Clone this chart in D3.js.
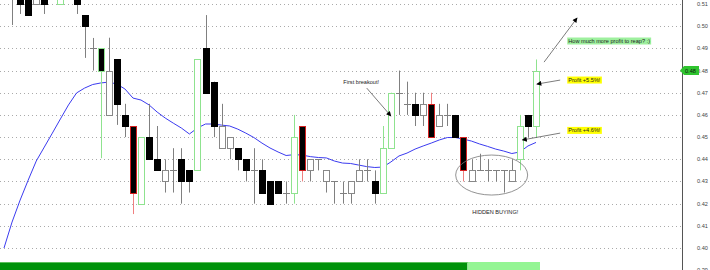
<!DOCTYPE html>
<html>
<head>
<meta charset="utf-8">
<script src="https://cdn.jsdelivr.net/npm/d3@7"></script>
<style>
  body { margin: 0; background: #fff; }
  svg { display: block; font-family: "Liberation Sans", Arial, sans-serif; }
</style>
</head>
<body>
<div id="chart"></div>
<script>
// price data, one entry per bar (bar 0 sits above the visible range)
const opens  = [0.516,0.515,0.515,0.516,0.51,0.515,0.514,0.51,0.515,0.514,0.505,0.49,0.49,0.46,0.485,0.46,0.455,0.42,0.45,0.44,0.43,0.435,0.44,0.435,0.435,0.49,0.475,0.445,0.445,0.445,0.44,0.435,0.435,0.43,0.43,0.425,0.425,0.455,0.435,0.44,0.43,0.43,0.425,0.425,0.43,0.435,0.43,0.425,0.445,0.47,0.465,0.465,0.46,0.465,0.455,0.46,0.46,0.45,0.43,0.435,0.435,0.435,0.435,0.43,0.44,0.46,0.455];
const highs  = [0.518,0.518,0.516,0.516,0.514,0.516,0.517,0.514,0.517,0.516,0.505,0.4947,0.49,0.4948,0.485,0.465,0.455,0.45,0.465,0.455,0.44,0.445,0.445,0.435,0.485,0.505,0.475,0.465,0.45,0.445,0.44,0.445,0.44,0.43,0.43,0.43,0.46,0.455,0.44,0.44,0.435,0.43,0.43,0.43,0.44,0.44,0.435,0.455,0.47,0.48,0.475,0.47,0.47,0.47,0.465,0.465,0.46,0.45,0.44,0.4425,0.44,0.435,0.435,0.44,0.46,0.46,0.485];
const lows   = [0.514,0.5005,0.5055,0.505,0.51,0.5055,0.5125,0.51,0.513,0.5055,0.4857,0.48,0.4405,0.46,0.4555,0.45,0.4153,0.42,0.44,0.435,0.425,0.425,0.42,0.425,0.435,0.47,0.45,0.445,0.44,0.435,0.43,0.42,0.425,0.42,0.425,0.42,0.42,0.43,0.43,0.435,0.425,0.42,0.42,0.42,0.43,0.43,0.42,0.425,0.445,0.46,0.46,0.455,0.455,0.45,0.455,0.455,0.45,0.43,0.43,0.435,0.43,0.43,0.425,0.43,0.435,0.45,0.45];
const closes = [0.515,0.513,0.51,0.505,0.513,0.51,0.516,0.513,0.514,0.51,0.50,0.49,0.48,0.48,0.4651,0.455,0.425,0.45,0.44,0.435,0.435,0.435,0.43,0.43,0.485,0.47,0.455,0.455,0.45,0.44,0.435,0.435,0.425,0.42,0.425,0.425,0.45,0.435,0.44,0.44,0.435,0.43,0.425,0.43,0.435,0.435,0.425,0.445,0.47,0.47,0.465,0.46,0.465,0.45,0.46,0.46,0.45,0.435,0.435,0.435,0.435,0.435,0.435,0.435,0.455,0.455,0.48];
// bars drawn with a green or red outline, by index
const greenBars = [7, 12, 17, 24, 36, 47, 48, 64, 66];
const redBars = [16, 37, 53, 57];
// moving average
const maValues = [0.4000,0.4117,0.4216,0.4306,0.4392,0.4455,0.4518,0.4582,0.4645,0.4699,0.4721,0.4737,0.4744,0.4748,0.4739,0.4717,0.4676,0.4667,0.4645,0.4613,0.4586,0.4563,0.4541,0.4514,0.4541,0.4559,0.4559,0.4554,0.4550,0.4536,0.4518,0.4498,0.4473,0.4451,0.4433,0.4417,0.4421,0.4419,0.4412,0.4408,0.4406,0.4392,0.4383,0.4381,0.4374,0.4367,0.4363,0.4365,0.4388,0.4415,0.4428,0.4446,0.4460,0.4473,0.4487,0.4498,0.4498,0.4491,0.4482,0.4469,0.4458,0.4446,0.4437,0.4426,0.4433,0.4460,0.4476];
// trend ribbon at the bottom, run lengths
const ribbonRuns = [{state: "strong", count: 58}, {state: "weak", count: 9}];
const priceTicks = [0.39,0.40,0.41,0.42,0.43,0.44,0.45,0.46,0.47,0.48,0.49,0.50,0.51];
const lastPrice = 0.48;

// annotations, in bar index / price units
const notes = [
  {text: "First breakout!", i: 42.1, p: 0.4748, bg: null, from: [45.0, 0.4721], to: [48.0, 0.4595]},
  {text: "How much more profit to reap? :)", i: 70.0, p: 0.4933, bg: "#9ef09e", from: [67.0, 0.4838], to: [71.1, 0.5037]},
  {text: "Profit +5.5%!", i: 70.0, p: 0.4757, bg: "#ffff00", from: [69.0, 0.4757], to: [66.1, 0.4739]},
  {text: "Profit +4.6%!", i: 70.0, p: 0.4530, bg: "#ffff00", from: [69.0, 0.4518], to: [64.3, 0.4487]},
  {text: "HIDDEN BUYING!", i: 58.1, p: 0.4162, bg: null, from: null, to: null}
];
const ellipseNote = {i: 60.5, p: 0.4329};

const W = 710, H = 270, axisX = 682;

const svg = d3.select("#chart").append("svg")
  .attr("width", W).attr("height", H);

const x = d3.scaleLinear().domain([0, 66]).range([4, 536]);
const y = d3.scaleLinear().domain([0.39, 0.51]).range([270.2, 4]);

const toneOf = i => greenBars.includes(i) ? "g" : redBars.includes(i) ? "r" : "n";
const bars = opens.map((o, i) => ({i: i, o: o, h: highs[i], l: lows[i], c: closes[i], t: toneOf(i)}));

// grid
svg.append("g").selectAll("line")
  .data(priceTicks)
  .enter().append("line")
  .attr("x1", 0).attr("x2", axisX)
  .attr("y1", d => Math.round(y(d)) + 0.5).attr("y2", d => Math.round(y(d)) + 0.5)
  .attr("stroke", "#aaa")
  .attr("stroke-dasharray", "1,3");

// ribbon
let start = 0;
const ribbon = ribbonRuns.map(r => { const seg = {state: r.state, a: start, b: start + r.count - 1}; start += r.count; return seg; });
svg.append("g").selectAll("rect")
  .data(ribbon)
  .enter().append("rect")
  .attr("x", d => d.a === 0 ? 0 : x(d.a) - 4)
  .attr("y", 262)
  .attr("width", d => x(d.b) + 4 - (d.a === 0 ? 0 : x(d.a) - 4))
  .attr("height", 8)
  .attr("fill", d => d.state === "strong" ? "#00920a" : "#94f594");
svg.append("line")
  .attr("x1", 0).attr("x2", x(ribbon[0].b) + 4)
  .attr("y1", 262.5).attr("y2", 262.5)
  .attr("stroke", "#5cc05c");

// moving average
svg.append("path")
  .datum(maValues)
  .attr("fill", "none")
  .attr("stroke", "#3b3bf0")
  .attr("stroke-width", 1)
  .attr("d", d3.line().x((d, i) => x(i)).y(d => y(d)));

// candles
const toneStroke = {g: "#8fe38f", r: "#d42020", n: "#888"};
const toneWick = {g: "#8fe38f", r: "#f08080", n: "#808080"};
const cx = d => Math.round(x(d.i));

const candle = svg.append("g").selectAll("g")
  .data(bars)
  .enter().append("g");

candle.append("line")
  .attr("x1", d => cx(d) + 0.5).attr("x2", d => cx(d) + 0.5)
  .attr("y1", d => y(d.h)).attr("y2", d => y(d.l))
  .attr("stroke", d => toneWick[d.t]);

candle.filter(d => d.o !== d.c).append("rect")
  .attr("x", d => cx(d) - 2.5)
  .attr("width", 6)
  .attr("y", d => Math.round(y(Math.max(d.o, d.c))) + 0.5)
  .attr("height", d => Math.max(1, Math.round(y(Math.min(d.o, d.c))) - Math.round(y(Math.max(d.o, d.c)))))
  .attr("fill", d => d.c < d.o ? "#000" : "#fff")
  .attr("stroke", d => d.t !== "n" ? toneStroke[d.t] : (d.c < d.o ? "#000" : "#888"));

candle.filter(d => d.o === d.c).append("line")
  .attr("x1", d => cx(d) - 3).attr("x2", d => cx(d) + 4)
  .attr("y1", d => Math.round(y(d.o)) + 0.5).attr("y2", d => Math.round(y(d.o)) + 0.5)
  .attr("stroke", "#808080");

// annotations
svg.append("defs").append("marker")
  .attr("id", "head")
  .attr("viewBox", "0 0 10 10")
  .attr("refX", 9).attr("refY", 5)
  .attr("markerWidth", 7).attr("markerHeight", 5)
  .attr("markerUnits", "userSpaceOnUse")
  .attr("orient", "auto")
  .append("path").attr("d", "M0,0L10,5L0,10z").attr("fill", "#000");

const noteG = svg.append("g");
notes.forEach(n => {
  if (n.from) {
    noteG.append("line")
      .attr("x1", x(n.from[0])).attr("y1", y(n.from[1]))
      .attr("x2", x(n.to[0])).attr("y2", y(n.to[1]))
      .attr("stroke", "#444").attr("stroke-width", 0.7)
      .attr("marker-end", "url(#head)");
  }
  const t = noteG.append("text")
    .attr("x", x(n.i)).attr("y", y(n.p))
    .attr("dy", "0.35em")
    .attr("font-size", 5.6)
    .attr("fill", "#222")
    .text(n.text);
  if (n.bg) {
    const b = t.node().getBBox();
    noteG.insert("rect", "text")
      .attr("x", b.x - 1).attr("y", b.y - 0.5)
      .attr("width", b.width + 2).attr("height", b.height + 1)
      .attr("fill", n.bg);
  }
});

noteG.append("ellipse")
  .attr("cx", x(ellipseNote.i)).attr("cy", y(ellipseNote.p))
  .attr("rx", 36).attr("ry", 20)
  .attr("fill", "none")
  .attr("stroke", "#777")
  .attr("stroke-width", 0.8);

// price axis on the right
svg.append("line")
  .attr("x1", axisX + 0.5).attr("x2", axisX + 0.5)
  .attr("y1", 0).attr("y2", H)
  .attr("stroke", "#555");

svg.append("g").selectAll("text")
  .data(priceTicks)
  .enter().append("text")
  .attr("x", 697).attr("y", d => y(d))
  .attr("dy", "0.35em")
  .attr("font-size", 5.6)
  .attr("fill", "#444")
  .text(d => d.toFixed(2));

// last price tag
const ly = y(lastPrice);
svg.append("path")
  .attr("d", `M${axisX - 2},${ly} L${axisX + 2},${ly - 4.5} L${axisX + 17},${ly - 4.5} L${axisX + 17},${ly + 4.5} L${axisX + 2},${ly + 4.5} Z`)
  .attr("fill", "#2fc42f");
svg.append("text")
  .attr("x", axisX + 3).attr("y", ly)
  .attr("dy", "0.35em")
  .attr("font-size", 5.6)
  .attr("fill", "#111")
  .text(lastPrice.toFixed(2));
</script>
</body>
</html>
